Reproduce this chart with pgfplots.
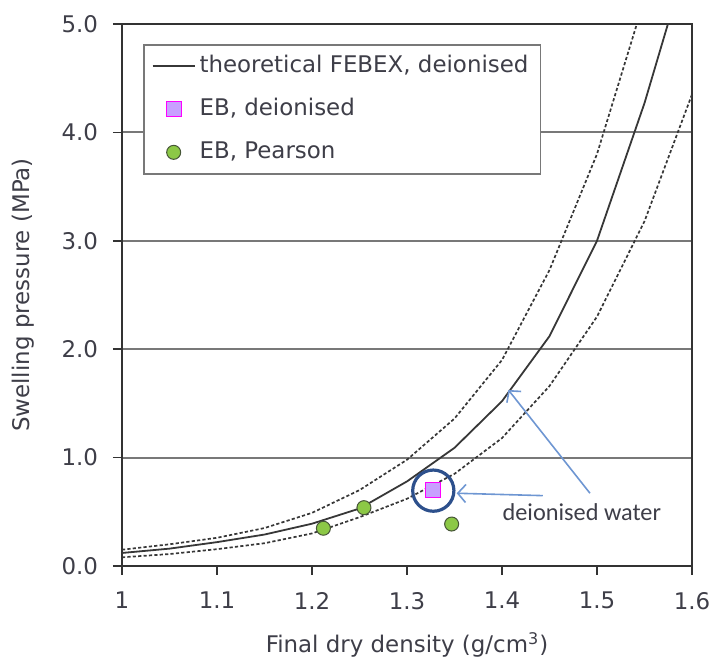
\documentclass[border=0pt]{standalone}
\usepackage{pgfplots}
\usepackage{pgfplotstable}
\pgfplotsset{compat=1.18}
\usepackage{fontspec}
\setmainfont{DejaVu Sans}
\newfontfamily\calibri{Carlito}
\usetikzlibrary{arrows.meta}

\definecolor{txt}{RGB}{62,62,72}
\definecolor{gridc}{RGB}{120,120,120}
\definecolor{curve}{RGB}{55,55,55}
\definecolor{sqfill}{RGB}{200,160,255}
\definecolor{sqdraw}{RGB}{255,0,255}
\definecolor{grn}{RGB}{140,200,70}
\definecolor{grndraw}{RGB}{70,85,55}
\definecolor{arrowc}{RGB}{110,150,210}
\definecolor{ringc}{RGB}{45,80,140}

\newcommand{\fs}{\fontsize{11.5}{13.8}\selectfont}

\pgfplotsset{
    lineleg/.style={legend image code/.code={\draw[##1] (0bp,0bp) -- (21bp,0bp);}},
    markleg/.style={legend image code/.code={\draw[##1] plot coordinates {(10.5bp,0bp)};}},
}

% theoretical FEBEX curve and its band
\pgfplotstableread{
x     y
1.00  0.12
1.05  0.16
1.10  0.22
1.15  0.29
1.20  0.39
1.25  0.53
1.30  0.78
1.35  1.09
1.40  1.52
1.45  2.12
1.50  3.00
1.55  4.27
1.60  5.75
}\theorytab

\pgfplotstableread{
x     y
1.00  0.15
1.05  0.20
1.10  0.26
1.15  0.35
1.20  0.49
1.25  0.70
1.30  0.98
1.35  1.36
1.40  1.90
1.45  2.73
1.50  3.80
1.55  5.23
1.60  6.90
}\upperband

\pgfplotstableread{
x     y
1.00  0.08
1.05  0.11
1.10  0.155
1.15  0.21
1.20  0.30
1.25  0.45
1.30  0.62
1.35  0.85
1.40  1.18
1.45  1.66
1.50  2.30
1.55  3.18
1.60  4.35
}\lowerband

\begin{document}
\begin{tikzpicture}
\begin{axis}[
    scale only axis,
    width=285bp, height=271bp,
    xmin=1, xmax=1.6, ymin=0, ymax=5,
    xtick={1,1.1,1.2,1.3,1.4,1.5,1.6},
    ytick={0,1,2,3,4,5},
    /pgf/number format/assume math mode=true,
    tick pos=left, tick align=outside,
    major tick length=4.5bp,
    ymajorgrids,
    grid style={gridc, line width=1bp},
    axis line style={black!80, line width=0.8bp},
    tick style={black!80, line width=0.8bp},
    ticklabel style={font=\fs, text=txt},
    xticklabel style={yshift=-5bp},
    yticklabel style={xshift=-4bp, /pgf/number format/.cd, fixed, fixed zerofill, precision=1},
    xlabel={Final dry density (g/cm\textsuperscript{3})},
    ylabel={Swelling pressure (MPa)},
    label style={font=\fs, text=txt},
    xlabel style={at={(axis description cs:0.5,-0.16)}, anchor=base},
    ylabel style={at={(axis description cs:-0.162,0.5)}, anchor=base},
    legend cell align=left,
    legend style={
        at={(axis description cs:0.0368,0.963)}, anchor=north west,
        draw=gridc, line width=0.8bp, fill=white,
        inner xsep=4bp, inner ysep=3.25bp,
        row sep=6.5bp,
        font=\fs, text=txt,
        nodes={inner sep=2bp, text height=8.5bp, text depth=2.5bp},
    },
]
\addplot[curve, line width=0.9bp, mark=none, lineleg]
    table[x=x, y=y] {\theorytab};
\addlegendentry{theoretical FEBEX, deionised}

\addplot[only marks, mark=square*, mark size=3.75bp,
    mark options={fill=sqfill, draw=sqdraw, line width=0.6bp}, markleg]
    coordinates {(1.3277,0.70)};
\addlegendentry{EB, deionised}

\addplot[only marks, mark=*, mark size=3.5bp,
    mark options={fill=grn, draw=grndraw, line width=0.5bp}, markleg]
    coordinates {(1.212,0.348) (1.2547,0.538) (1.347,0.387)};
\addlegendentry{EB, Pearson}

\addplot[forget plot, curve, line width=0.85bp, dash pattern=on 1.6bp off 1.1bp, mark=none]
    table[x=x, y=y] {\upperband};
\addplot[forget plot, curve, line width=0.85bp, dash pattern=on 1.6bp off 1.1bp, mark=none]
    table[x=x, y=y] {\lowerband};

% annotation
\draw[ringc, line width=1.6bp] (axis cs:1.3277,0.695) circle[radius=10.3bp];
\draw[arrowc, line width=0.8bp, -{Straight Barb[length=4bp,width=9bp]}]
    (axis cs:1.4429,0.649) -- (axis cs:1.3523,0.671);
\draw[arrowc, line width=0.8bp, -{Straight Barb[length=4bp,width=9bp]}]
    (axis cs:1.4926,0.671) -- (axis cs:1.4067,1.624);
\node[font=\calibri\fontsize{12.2}{14}\selectfont, text=txt]
    at (axis cs:1.484,0.50) {deionised water};
\end{axis}
\pgfresetboundingbox
\useasboundingbox ([shift={(-61bp,-47.5bp)}]current axis.south west)
    rectangle ([shift={(10.5bp,12bp)}]current axis.north east);
\end{tikzpicture}
\end{document}
